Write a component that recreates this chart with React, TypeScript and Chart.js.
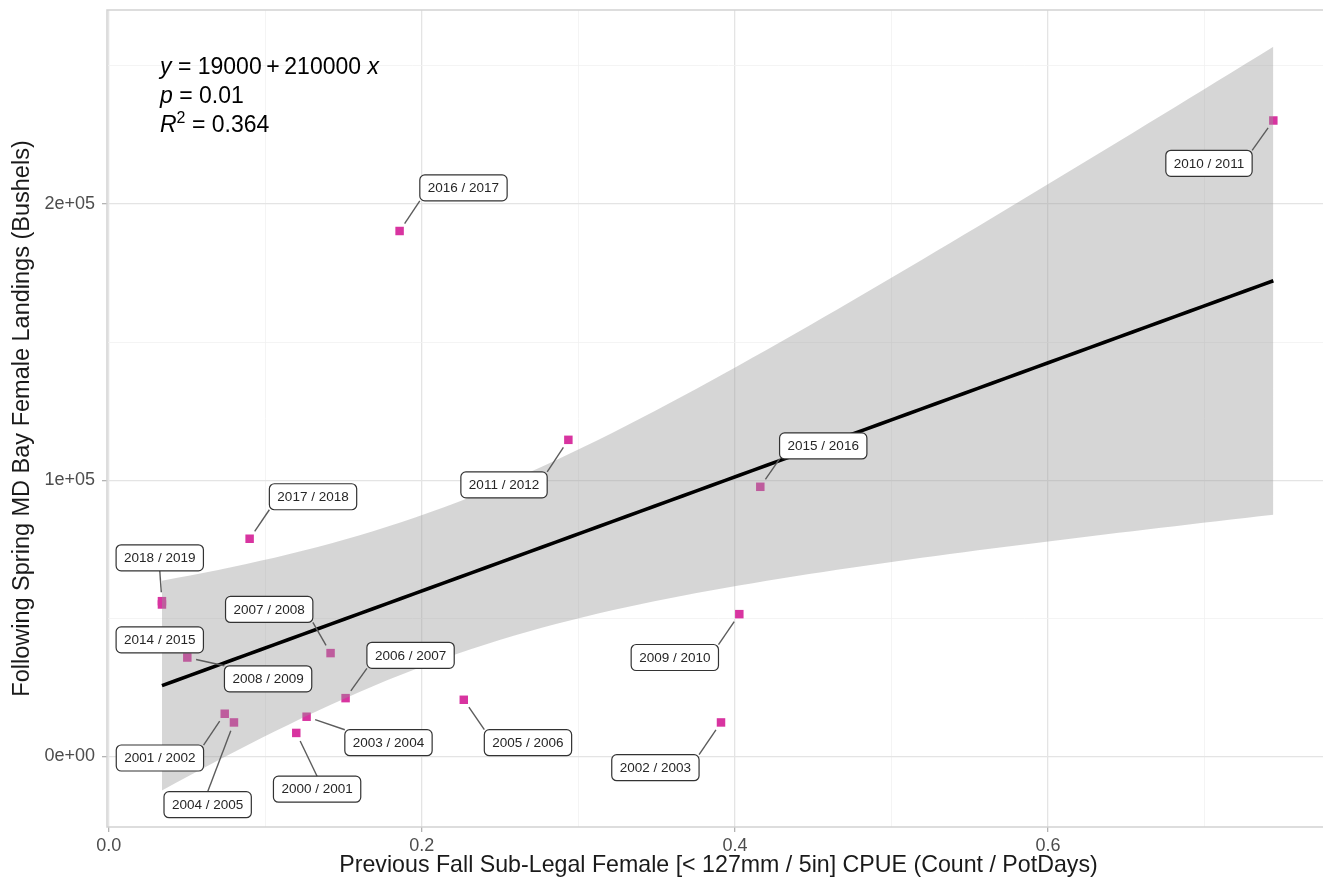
import React, { useEffect, useRef } from 'react';
import { Chart, registerables } from 'chart.js';

Chart.register(...registerables);

// ---------------- data ----------------
const seasons = [
  '2000 / 2001', '2001 / 2002', '2002 / 2003', '2003 / 2004', '2004 / 2005',
  '2005 / 2006', '2006 / 2007', '2007 / 2008', '2008 / 2009', '2009 / 2010',
  '2010 / 2011', '2011 / 2012', '2014 / 2015', '2015 / 2016',
  '2016 / 2017', '2017 / 2018', '2018 / 2019',
];
// Previous fall sub-legal female CPUE (count / pot-days)
const cpue = [
  0.1198, 0.0741, 0.3911, 0.1264, 0.0800,
  0.2268, 0.1513, 0.1417, 0.0502, 0.4028,
  0.7439, 0.2936, 0.0340, 0.4162,
  0.1858, 0.0900, 0.0340,
];
// Following spring MD Bay female landings (bushels)
const landings = [
  8500, 15450, 12300, 14370, 12300,
  20500, 21100, 37400, 35800, 51500,
  230200, 114600, 55000, 97600,
  190200, 78800, 56200,
];
// repelled label anchors (data units)
const labelCpue = [
  0.1331, 0.0327, 0.3492, 0.1787, 0.0632,
  0.2678, 0.1928, 0.1025, 0.1018, 0.3616,
  0.7028, 0.2525, 0.0326, 0.4564,
  0.2266, 0.1305, 0.0326,
];
const labelLandings = [
  -11870, -580, -4090, 4960, -17480,
  4960, 36600, 53200, 28100, 35800,
  214700, 98300, 42200, 112400,
  205800, 94000, 71900,
];

const xTickValues = [0, 0.1, 0.2, 0.3, 0.4, 0.5, 0.6, 0.7];
const xTickLabels = ['0.0', '', '0.2', '', '0.4', '', '0.6', ''];
const yTickValues = [0, 50000, 100000, 150000, 200000, 250000];
const yTickLabels = ['0e+00', '', '1e+05', '', '2e+05', ''];

const xTitle = 'Previous Fall Sub-Legal Female [< 127mm / 5in] CPUE (Count / PotDays)';
const yTitle = 'Following Spring MD Bay Female Landings (Bushels)';
const eqIntercept = '19000';
const eqSlope = '210000';
const pValue = '0.01';
const r2Value = '0.364';

const T975 = 2.1314; // t quantile, df = n - 2 = 15

// ---------------- fit (lm, 95% CI like geom_smooth) ----------------
function fitLinear(xs: number[], ys: number[]) {
  const n = xs.length;
  const mx = xs.reduce((s, v) => s + v, 0) / n;
  const my = ys.reduce((s, v) => s + v, 0) / n;
  let sxx = 0, sxy = 0;
  for (let i = 0; i < n; i++) {
    sxx += (xs[i] - mx) ** 2;
    sxy += (xs[i] - mx) * (ys[i] - my);
  }
  const b = sxy / sxx;
  const a = my - b * mx;
  let sse = 0;
  for (let i = 0; i < n; i++) sse += (ys[i] - a - b * xs[i]) ** 2;
  const s = Math.sqrt(sse / (n - 2));
  return { a, b, s, n, mx, sxx };
}

const FONT = '"Liberation Sans", Arial, Helvetica, sans-serif';
const CANVAS_W = 1336;
const CANVAS_H = 885;

export default function App() {
  const ref = useRef<HTMLCanvasElement | null>(null);

  useEffect(() => {
    document.body.style.margin = '0';
    document.body.style.overflow = 'hidden';
    const canvas = ref.current;
    if (!canvas) return;

    const fit = fitLinear(cpue, landings);
    const xmin = Math.min(...cpue);
    const xmax = Math.max(...cpue);
    const grid: number[] = [];
    for (let i = 0; i < 80; i++) grid.push(xmin + ((xmax - xmin) * i) / 79);
    const fitPts = grid.map((x) => ({ x, y: fit.a + fit.b * x }));
    const halfW = (x: number) =>
      T975 * fit.s * Math.sqrt(1 / fit.n + (x - fit.mx) ** 2 / fit.sxx);
    const upper = grid.map((x) => ({ x, y: fit.a + fit.b * x + halfW(x) }));
    const lower = grid.map((x) => ({ x, y: fit.a + fit.b * x - halfW(x) }));

    const panelBorder = {
      id: 'panelBorder',
      afterDatasetsDraw(chart: any) {
        const { ctx, chartArea: ca } = chart;
        ctx.save();
        ctx.strokeStyle = '#d2d2d2';
        ctx.lineWidth = 1.5;
        ctx.strokeRect(ca.left, ca.top, ca.right - ca.left, ca.bottom - ca.top);
        ctx.restore();
      },
    };

    const MIN_SEGMENT = 28;
    const repelLabels = {
      id: 'repelLabels',
      afterDatasetsDraw(chart: any) {
        const { ctx } = chart;
        const xs = chart.scales.x;
        const ys = chart.scales.y;
        ctx.save();
        ctx.font = `13.5px ${FONT}`;
        const boxes: any[] = [];
        for (let i = 0; i < seasons.length; i++) {
          const px = xs.getPixelForValue(cpue[i]);
          const py = ys.getPixelForValue(landings[i]);
          const cx = xs.getPixelForValue(labelCpue[i]);
          const cy = ys.getPixelForValue(labelLandings[i]);
          const w = ctx.measureText(seasons[i]).width + 16;
          const h = 26;
          boxes.push({ i, px, py, cx, cy, w, h });
        }
        // segments
        ctx.strokeStyle = '#5c5c5c';
        ctx.lineWidth = 1.4;
        for (const b of boxes) {
          const x1 = b.cx - b.w / 2, x2 = b.cx + b.w / 2;
          const y1 = b.cy - b.h / 2, y2 = b.cy + b.h / 2;
          const inside = b.px >= x1 && b.px <= x2 && b.py >= y1 && b.py <= y2;
          if (inside) continue;
          const tx = b.px < x1 ? x1 : b.px > x2 ? x2 : b.cx;
          const ty = b.py < y1 ? y1 : b.py > y2 ? y2 : b.cy;
          const dx = tx - b.px, dy = ty - b.py;
          const d = Math.hypot(dx, dy);
          if (d < MIN_SEGMENT) continue;
          const gap = 9;
          ctx.beginPath();
          ctx.moveTo(b.px + (dx / d) * gap, b.py + (dy / d) * gap);
          ctx.lineTo(tx, ty);
          ctx.stroke();
        }
        // boxes
        for (const b of boxes) {
          const x1 = b.cx - b.w / 2, y1 = b.cy - b.h / 2;
          ctx.beginPath();
          ctx.roundRect(x1, y1, b.w, b.h, 5);
          ctx.fillStyle = '#ffffff';
          ctx.fill();
          ctx.strokeStyle = '#333333';
          ctx.lineWidth = 1.2;
          ctx.stroke();
          ctx.fillStyle = '#262626';
          ctx.textAlign = 'center';
          ctx.textBaseline = 'middle';
          ctx.fillText(seasons[b.i], b.cx, b.cy + 0.5);
        }
        ctx.restore();
      },
    };

    const equation = {
      id: 'equation',
      afterDraw(chart: any) {
        const { ctx, chartArea: ca } = chart;
        const fr = `23px ${FONT}`;
        const fi = `italic 23px ${FONT}`;
        const fs = `16px ${FONT}`;
        const drawRuns = (x: number, y: number, runs: [string, string, number][]) => {
          for (const [t, f, dy] of runs) {
            ctx.font = f;
            ctx.fillText(t, x, y + dy);
            x += ctx.measureText(t).width;
          }
        };
        ctx.save();
        ctx.fillStyle = '#000000';
        ctx.textAlign = 'left';
        ctx.textBaseline = 'alphabetic';
        const x0 = ca.left + 53;
        const y0 = ca.top + 63.5;
        drawRuns(x0, y0, [
          ['y', fi, 0],
          [` = ${eqIntercept}`, fr, 0],
          ['\u2009+\u2009', fr, 0],
          [`${eqSlope} `, fr, 0],
          ['x', fi, 0],
        ]);
        drawRuns(x0, y0 + 29, [
          ['p', fi, 0],
          [` = ${pValue}`, fr, 0],
        ]);
        drawRuns(x0, y0 + 58, [
          ['R', fi, 0],
          ['2', fs, -9],
          [` = ${r2Value}`, fr, 0],
        ]);
        ctx.restore();
      },
    };

    const majorMinor = (major: any, minor: any) => (c: any) =>
      c.index % 2 === 0 ? major : minor;

    const chart = new Chart(canvas, {
      type: 'scatter',
      data: {
        datasets: [
          {
            type: 'scatter',
            data: cpue.map((x, i) => ({ x, y: landings[i] })),
            pointStyle: 'rect',
            pointRadius: 6,
            pointHoverRadius: 6,
            backgroundColor: 'rgb(216,52,160)',
            borderWidth: 0,
            order: 4,
          } as any,
          {
            type: 'line',
            data: upper,
            pointRadius: 0,
            borderWidth: 0,
            borderColor: 'rgba(0,0,0,0)',
            backgroundColor: 'rgba(153,153,153,0.4)',
            fill: '+1',
            tension: 0,
            order: 3,
          } as any,
          {
            type: 'line',
            data: lower,
            pointRadius: 0,
            borderWidth: 0,
            borderColor: 'rgba(0,0,0,0)',
            fill: false,
            tension: 0,
            order: 3,
          } as any,
          {
            type: 'line',
            data: fitPts,
            pointRadius: 0,
            borderWidth: 3.6,
            borderColor: '#000000',
            fill: false,
            tension: 0,
            order: 1,
          } as any,
        ],
      },
      options: {
        responsive: false,
        animation: false,
        devicePixelRatio: 1,
        layout: { padding: { top: 10, left: 0, right: CANVAS_W - 1331, bottom: 0 } },
        plugins: {
          legend: { display: false },
          tooltip: { enabled: false },
          filler: { drawTime: 'beforeDatasetDraw' },
        } as any,
        scales: {
          x: {
            type: 'linear',
            min: -0.0011,
            max: 0.7801,
            afterBuildTicks: (s: any) => {
              s.ticks = xTickValues.map((v) => ({ value: v }));
            },
            afterFit: (s: any) => {
              s.height = 58;
              s.paddingLeft = 0;
              s.paddingRight = 0;
              s.paddingTop = 0;
              s.paddingBottom = 0;
            },
            ticks: {
              autoSkip: false,
              maxRotation: 0,
              padding: 3,
              color: '#4d4d4d',
              font: { family: FONT, size: 18 },
              callback: (_v: any, i: number) => xTickLabels[i],
            },
            grid: {
              color: majorMinor('#e4e4e4', '#f1f1f1'),
              lineWidth: majorMinor(1.3, 0.8),
              tickColor: majorMinor('#b3b3b3', 'rgba(0,0,0,0)'),
              tickLength: 5,
              drawTicks: true,
            },
            border: { display: false },
            title: {
              display: true,
              text: xTitle,
              color: '#1a1a1a',
              font: { family: FONT, size: 23.2 },
              padding: { top: 0, bottom: 5 },
            },
          },
          y: {
            type: 'linear',
            min: -25550,
            max: 270200,
            afterBuildTicks: (s: any) => {
              s.ticks = yTickValues.map((v) => ({ value: v }));
            },
            afterFit: (s: any) => {
              s.width = 107;
              s.paddingLeft = 0;
              s.paddingRight = 0;
              s.paddingTop = 0;
              s.paddingBottom = 0;
            },
            ticks: {
              autoSkip: false,
              padding: 7,
              color: '#4d4d4d',
              font: { family: FONT, size: 18 },
              callback: (_v: any, i: number) => yTickLabels[i],
            },
            grid: {
              color: majorMinor('#e4e4e4', '#f1f1f1'),
              lineWidth: majorMinor(1.3, 0.8),
              tickColor: majorMinor('#b3b3b3', 'rgba(0,0,0,0)'),
              tickLength: 5,
              drawTicks: true,
            },
            border: { display: false },
            title: {
              display: true,
              text: yTitle,
              color: '#1a1a1a',
              font: { family: FONT, size: 23.5 },
              padding: { top: 8, bottom: 0 },
            },
          },
        },
      } as any,
      plugins: [panelBorder, repelLabels, equation],
    });

    return () => chart.destroy();
  }, []);

  return (
    <canvas
      ref={ref}
      width={CANVAS_W}
      height={CANVAS_H}
      style={{ display: 'block', width: CANVAS_W, height: CANVAS_H }}
    />
  );
}
